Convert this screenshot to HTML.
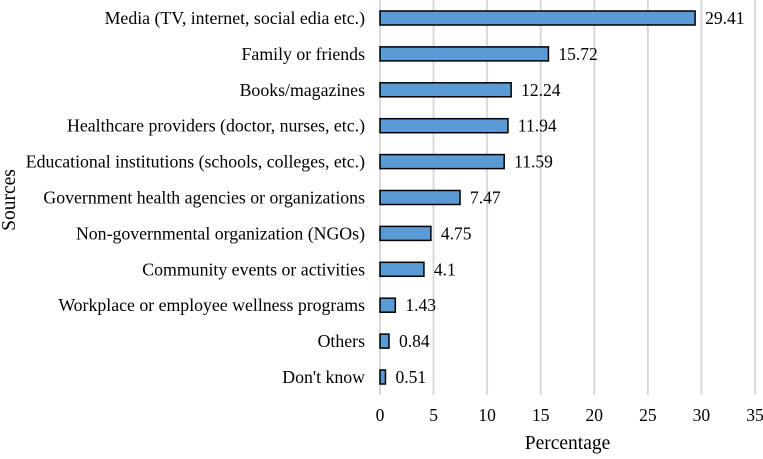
<!DOCTYPE html>
<html><head><meta charset="utf-8"><style>
body{margin:0;background:#fff;}
svg text{font-family:"Liberation Serif",serif;fill:#000;}
</style></head><body>
<svg id="chart" width="763" height="454"></svg>
<script>
const categories=["Media (TV, internet, social edia etc.)","Family or friends","Books/magazines","Healthcare providers (doctor, nurses, etc.)","Educational institutions (schools, colleges, etc.)","Government health agencies or organizations","Non-governmental organization (NGOs)","Community events or activities","Workplace or employee wellness programs","Others","Don't know"];
const values=[29.41,15.72,12.24,11.94,11.59,7.47,4.75,4.1,1.43,0.84,0.51];
const valueLabels=["29.41","15.72","12.24","11.94","11.59","7.47","4.75","4.1","1.43","0.84","0.51"];
const ticks=[0,5,10,15,20,25,30,35];
const NS="http://www.w3.org/2000/svg";
const svg=document.getElementById('chart');
const x0=380,xScale=(755-380)/35;
const xPos=v=>x0+v*xScale;
const yTop=18,step=35.9;
const yPos=i=>yTop+i*step;
function mk(t,a,txt){const e=document.createElementNS(NS,t);for(const k in a)e.setAttribute(k,a[k]);if(txt!==undefined)e.textContent=txt;svg.appendChild(e);return e;}
ticks.forEach(t=>{
 const g=mk('line',{x1:xPos(t),x2:xPos(t),y1:0,y2:395,stroke:'#d9d9d9','stroke-width':2});
 
 
 const l=mk('text',{x:xPos(t),y:421,'text-anchor':'middle','font-size':17.5},t);
 
 
});
categories.forEach((c,i)=>{
 const y=yPos(i);
 const r=mk('rect',{x:x0,y:y-7,width:xPos(values[i])-x0,height:14,fill:'#5b9bd5',stroke:'#000','stroke-width':1.5});
 
 
 const l=mk('text',{x:365,y:y+6,'text-anchor':'end','font-size':17.8},c);
 
 
 const v=mk('text',{x:xPos(values[i])+10,y:y+6,'font-size':17.5},valueLabels[i]);
 
 
});
const xt=mk('text',{x:xPos(17.5),y:449,'text-anchor':'middle','font-size':19.5},'Percentage');


const yt=mk('text',{x:0,y:0,'text-anchor':'middle','font-size':19.5,transform:'translate(15,200) rotate(-90)'},'Sources');


</script>
</body></html>
